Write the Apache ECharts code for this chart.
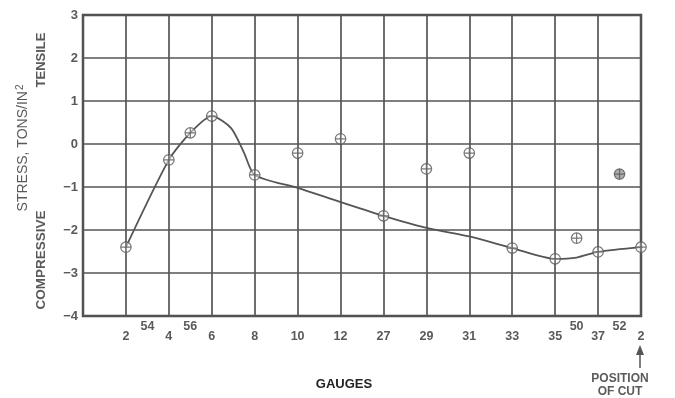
<!DOCTYPE html>
<html>
<head>
<meta charset="utf-8">
<script src="https://cdn.jsdelivr.net/npm/echarts@6/dist/echarts.min.js"></script>
<style>html,body{margin:0;padding:0;background:#fff}#c{width:675px;height:398px}</style>
</head>
<body>
<div id="c"></div>
<script>
// Gauge labels at integer positions 0..13 along the x axis
const gaugeLabels = ['', '2', '4', '6', '8', '10', '12', '27', '29', '31', '33', '35', '37', '2'];
// Intermediate gauges (raised labels) at half positions
const midPos = [1.5, 2.5, 11.5, 12.5];
const midLabels = ['54', '56', '50', '52'];
// Measured stresses (tons/in^2) at gauge positions
const pointPos = [1, 2, 2.5, 3, 4, 5, 6, 7, 8, 9, 10, 11, 11.5, 12, 12.5, 13];
const pointStress = [-2.4, -0.37, 0.26, 0.65, -0.72, -0.21, 0.12, -1.67, -0.58, -0.21, -2.42, -2.67, -2.19, -2.51, -0.70, -2.40];
// Faired curve
const curvePos = [1, 2, 2.5, 3, 3.45, 3.75, 4, 5, 6, 7, 8, 9, 10, 11, 11.5, 12, 13];
const curveStress = [-2.4, -0.37, 0.26, 0.65, 0.37, -0.2, -0.72, -1.02, -1.35, -1.67, -1.95, -2.15, -2.42, -2.67, -2.64, -2.51, -2.4];
const yTicks = [-4, -3, -2, -1, 0, 1, 2, 3];

const txt = '#5a5a5a';
const font = '"Liberation Sans", Arial, sans-serif';
const markerPath = 'path://M0,5A5,5 0 1,0 10,5A5,5 0 1,0 0,5M5,0L5,10M0,5L10,5';

const chart = echarts.init(document.getElementById('c'));
chart.setOption({
  animation: false,
  backgroundColor: '#fff',
  grid: { left: 83, top: 15, right: 34, bottom: 82, show: true, borderColor: '#4a4a4a', borderWidth: 2.5, backgroundColor: 'transparent' },
  xAxis: [{
    type: 'value', min: 0, max: 13, interval: 1,
    axisLine: { show: false }, axisTick: { show: false },
    splitLine: { show: true, lineStyle: { color: '#555', width: 1.7 } },
    axisLabel: { margin: 14, color: txt, fontFamily: font, fontWeight: 'bold', fontSize: 12.5,
      formatter: v => gaugeLabels[Math.round(v)] || '' }
  }, {
    type: 'value', min: 0, max: 13, interval: 0.5, position: 'bottom',
    axisLine: { show: false }, axisTick: { show: false }, splitLine: { show: false },
    axisLabel: { margin: 4, color: txt, fontFamily: font, fontWeight: 'bold', fontSize: 12.5,
      showMinLabel: false, showMaxLabel: false,
      formatter: v => { const i = midPos.indexOf(v); return i >= 0 ? midLabels[i] : ''; } }
  }],
  yAxis: {
    type: 'value', min: yTicks[0], max: yTicks[yTicks.length - 1], interval: 1,
    axisLine: { show: false }, axisTick: { show: false },
    splitLine: { show: true, lineStyle: { color: '#555', width: 1.7 } },
    axisLabel: { margin: 5, color: txt, fontFamily: font, fontWeight: 'bold', fontSize: 13,
      formatter: v => v < 0 ? '\u2212' + Math.abs(v) : String(v) }
  },
  series: [{
    type: 'line', xAxisIndex: 0,
    data: curvePos.map((x, i) => [x, curveStress[i]]),
    smooth: 0.25, showSymbol: false, symbol: 'none',
    lineStyle: { color: '#555', width: 1.8 }, z: 3
  }, {
    type: 'scatter', xAxisIndex: 0,
    data: pointPos.map((x, i) => ({ value: [x, pointStress[i]], itemStyle: x === 12.5 ? { color: '#999' } : undefined })),
    symbol: markerPath, symbolSize: 10.5,
    itemStyle: { color: 'rgba(255,255,255,0.6)', borderColor: '#555', borderWidth: 1.2 }, z: 4
  }],
  graphic: [
    { type: 'text', x: 23, y: 148, rotation: Math.PI / 2,
      style: { text: 'STRESS, TONS/IN{s|2}', fill: txt, font: '14px ' + font, align: 'center', verticalAlign: 'middle',
        rich: { s: { fontSize: 10, verticalAlign: 'top', padding: [0, 0, 6, 1], fill: txt, fontFamily: font } } } },
    { type: 'text', x: 41, y: 60, rotation: Math.PI / 2,
      style: { text: 'TENSILE', fill: txt, font: 'bold 13px ' + font, align: 'center', verticalAlign: 'middle' } },
    { type: 'text', x: 41, y: 260, rotation: Math.PI / 2,
      style: { text: 'COMPRESSIVE', fill: txt, font: 'bold 13.5px ' + font, align: 'center', verticalAlign: 'middle' } },
    { type: 'text', x: 344, y: 384,
      style: { text: 'GAUGES', fill: '#222', font: 'bold 13px ' + font, align: 'center', verticalAlign: 'middle' } },
    { type: 'line', shape: { x1: 640, y1: 352, x2: 640, y2: 368 }, style: { stroke: '#555', lineWidth: 1.5 } },
    { type: 'polygon', shape: { points: [[640, 345], [636, 355], [644, 355]] }, style: { fill: '#555' } },
    { type: 'text', x: 620, y: 379,
      style: { text: 'POSITION', fill: txt, font: 'bold 12px ' + font, align: 'center', verticalAlign: 'middle' } },
    { type: 'text', x: 620, y: 392,
      style: { text: 'OF CUT', fill: txt, font: 'bold 12px ' + font, align: 'center', verticalAlign: 'middle' } }
  ]
});
</script>
</body>
</html>
